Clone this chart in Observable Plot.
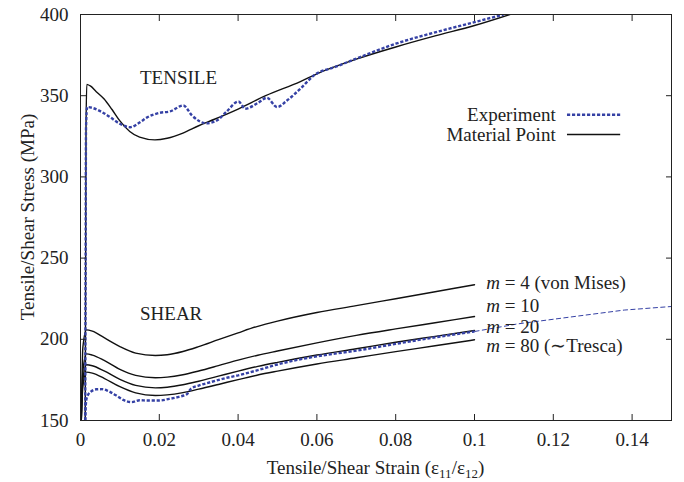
<!DOCTYPE html>
<html><head><meta charset="utf-8">
<script src="https://cdn.jsdelivr.net/npm/d3@7"></script>
<script src="https://cdn.jsdelivr.net/npm/@observablehq/plot@0.6"></script>
<style>
html,body{margin:0;padding:0;background:#fff;}
#chart{width:684px;height:482px;}
</style></head><body><div id="chart"></div>
<script>
// ---- tick values ----
const xTicks = [0, 0.02, 0.04, 0.06, 0.08, 0.1, 0.12, 0.14];
const yTicks = [150, 200, 250, 300, 350, 400];

// ---- tensile: material point model ----
const tensileModelStrain = [0.0012, 0.0014, 0.0016, 0.0025, 0.004, 0.006, 0.008, 0.01, 0.0125, 0.015, 0.0189, 0.022, 0.026, 0.03, 0.034, 0.04, 0.047, 0.0558, 0.06, 0.07, 0.08, 0.09, 0.1, 0.109];
const tensileModelStress = [150, 330, 357, 356, 352.5, 348, 341.5, 334.5, 328, 324.5, 322.8, 323.8, 327, 331.5, 335.5, 341.8, 350, 358.7, 363.5, 372.5, 380, 386.8, 393.2, 400];

// ---- tensile: experiment ----
const tensileExpStrain = [0.0012, 0.0013, 0.0014, 0.0017, 0.003, 0.005, 0.0075, 0.01, 0.0126, 0.015, 0.0168, 0.0202, 0.0227, 0.0261, 0.0283, 0.032, 0.0346, 0.037, 0.0401, 0.0418, 0.045, 0.0473, 0.0499, 0.0524, 0.0558, 0.0592, 0.065, 0.071, 0.08, 0.09, 0.1, 0.1074];
const tensileExpStress = [150, 250, 330, 343, 342.5, 340.5, 336.8, 332.7, 330.6, 333.5, 336.5, 339.5, 340.3, 344, 337.8, 333, 334.7, 340, 346.4, 342, 345.5, 348.7, 343, 347, 354.3, 362.4, 368, 373.8, 382, 389, 395.3, 400];

// ---- shear: material point model, exponent m ----
const shearStrain = [0.0002, 0.0006, 0.0015, 0.003, 0.006, 0.01, 0.014, 0.019, 0.022, 0.026, 0.03, 0.035, 0.04, 0.045, 0.05, 0.06, 0.07, 0.08, 0.09, 0.1];
const shearM4  = [150, 195, 205.8, 205, 201, 195.5, 191.5, 190, 190.5, 192.5, 195.5, 199.8, 204, 208, 211.2, 216.5, 220.7, 225, 229.3, 233.6];
const shearM10 = [150, 180, 191, 190.3, 187, 181.5, 177.8, 176.3, 176.7, 178.2, 180.5, 183.8, 187.2, 190.2, 192.8, 197.8, 202.4, 206.4, 210.2, 214];
const shearM20 = [150, 175, 184.3, 183.7, 180.5, 175.3, 171.6, 170.1, 170.5, 172, 174.2, 177.3, 180.4, 183.3, 185.8, 190.3, 194.2, 198.2, 201.8, 205.4];
const shearM80 = [150, 171, 179.8, 179.2, 176, 170.8, 167, 165.4, 165.8, 167.2, 169.3, 172.2, 175.2, 178, 180.4, 184.8, 188.6, 192.4, 196, 199.7];
const mLabels = ["m = 4 (von Mises)", "m = 10", "m = 20", "m = 80 (\u223CTresca)"];

// ---- shear: experiment ----
const shearExpStrain = [0.0012, 0.0013, 0.0016, 0.0025, 0.004, 0.0055, 0.007, 0.009, 0.011, 0.013, 0.015, 0.017, 0.02, 0.0225, 0.025, 0.027, 0.028, 0.03, 0.033, 0.037, 0.04, 0.045, 0.05, 0.055, 0.06, 0.065, 0.07, 0.08, 0.09, 0.1];
const shearExpStress = [150, 158, 164, 167.5, 169.2, 169.3, 168.2, 165.5, 162.5, 161.3, 162.5, 162.3, 162.3, 163.3, 164.6, 166.2, 169.5, 171.5, 173.6, 176.2, 177.8, 181, 184.5, 187.3, 189.5, 191.3, 193, 197.2, 201.2, 204.8];
// extrapolated part beyond 0.1 (thin dashed)
const shearExpExtStrain = [0.1, 0.111, 0.124, 0.138, 0.15];
const shearExpExtStress = [204.8, 209.5, 213.6, 218, 220.2];

// ---- annotation texts ----
const regionLabels = ["TENSILE", "SHEAR"];
const legendLabels = ["Experiment", "Material Point"];

// ---- build tables ----
const rows = (xs, ys) => xs.map((x, i) => ({strain: x, stress: ys[i]}));
const tensileModel = rows(tensileModelStrain, tensileModelStress);
const tensileExp = rows(tensileExpStrain, tensileExpStress);
const shearExp = rows(shearExpStrain, shearExpStress);
const shearExpExt = rows(shearExpExtStrain, shearExpExtStress);
const shearModel = [shearM4, shearM10, shearM20, shearM80].flatMap((ys, k) =>
  shearStrain.map((x, i) => ({strain: x, stress: ys[i], m: mLabels[k]})));

// annotation placement (data coordinates)
const regionPos = [{x: 0.0151, y: 357.3}, {x: 0.0151, y: 211.6}];
const legendPos = [{x: 0.1206, y: 334.3, lx1: 0.1236, lx2: 0.1371, ly: 338.3},
                   {x: 0.1206, y: 322.4, lx1: 0.1236, lx2: 0.1371, ly: 326.1}];
const mPos = [230.7, 216.8, 203.6, 191.9];
const mX = 0.103;

const BLUE = "#3541a5";
const INK = "#222";
const expStyle = {stroke: BLUE, strokeWidth: 2.4, strokeDasharray: "3.2,1.8", strokeLinecap: "butt", strokeLinejoin: "miter"};
const modelStyle = {stroke: "#111", strokeWidth: 1.4};

const regionData = regionLabels.map((t, i) => ({t, ...regionPos[i]}));
const legendData = legendLabels.map((t, i) => ({t, ...legendPos[i]}));
const mData = mLabels.map((t, i) => ({t, x: mX, y: mPos[i]}));

const plot = Plot.plot({
  width: 684, height: 482,
  marginTop: 14, marginBottom: 62, marginLeft: 80, marginRight: 13,
  x: {domain: [0, 0.15]},
  y: {domain: [150, 400]},
  style: {fontFamily: "'Liberation Serif', 'Times New Roman', serif", fontSize: "19px", color: INK, background: "#fff"},
  marks: [
    Plot.line(shearExpExt, {x: "strain", y: "stress", stroke: BLUE, strokeWidth: 1, strokeDasharray: "5,2.5", strokeLinecap: "butt", clip: true}),
    Plot.line(shearModel, {x: "strain", y: "stress", z: "m", curve: "monotone-x", ...modelStyle, clip: true}),
    Plot.line(tensileModel, {x: "strain", y: "stress", curve: "monotone-x", ...modelStyle, clip: true}),
    Plot.line(shearExp, {x: "strain", y: "stress", curve: "monotone-x", ...expStyle, clip: true}),
    Plot.line(tensileExp, {x: "strain", y: "stress", curve: "monotone-x", ...expStyle, clip: true}),
    // legend samples
    Plot.ruleY(legendData.slice(0, 1), {y: "ly", x1: "lx1", x2: "lx2", ...expStyle}),
    Plot.ruleY(legendData.slice(1), {y: "ly", x1: "lx1", x2: "lx2", ...modelStyle}),
    Plot.text(legendData, {x: "x", y: "y", text: "t", textAnchor: "end", lineAnchor: "bottom", fill: INK}),
    Plot.text(regionData, {x: "x", y: "y", text: "t", textAnchor: "start", lineAnchor: "bottom", fill: INK}),
    Plot.text(mData, {x: "x", y: "y", text: "t", textAnchor: "start", lineAnchor: "bottom", fill: INK, className: "mlabel"}),
    // frame and inward ticks
    Plot.frame({stroke: INK, strokeWidth: 1}),
    Plot.axisX({anchor: "bottom", ticks: xTicks, tickSize: 6, dy: -6, tickFormat: () => "", label: null, stroke: INK}),
    Plot.axisX({anchor: "top", ticks: xTicks, tickSize: 6, dy: 6, tickFormat: () => "", label: null, stroke: INK}),
    Plot.axisY({anchor: "left", ticks: yTicks, tickSize: 6, dx: 6, tickFormat: () => "", label: null, stroke: INK}),
    Plot.axisY({anchor: "right", ticks: yTicks, tickSize: 6, dx: -6, tickFormat: () => "", label: null, stroke: INK}),
    // tick labels
    Plot.axisX({anchor: "bottom", ticks: xTicks, tickSize: 0, tickPadding: 12, tickFormat: d => String(d), label: null, fill: INK}),
    Plot.axisY({anchor: "left", ticks: yTicks, tickSize: 0, tickPadding: 12, tickFormat: d => String(d), label: null, fill: INK})
  ]
});

document.getElementById("chart").appendChild(plot);
const svg = d3.select(plot);

// italic "m" in the exponent labels
svg.selectAll("g.mlabel text").each(function () {
  const s = this.textContent;
  const sel = d3.select(this);
  sel.text(null);
  sel.append("tspan").attr("font-style", "italic").text(s.slice(0, 1));
  sel.append("tspan").text(s.slice(1));
});

// axis titles
const xt = svg.append("text")
  .attr("x", (80 + 671) / 2).attr("y", 474)
  .attr("text-anchor", "middle").attr("fill", INK)
  .attr("font-family", "'Liberation Serif', serif").attr("font-size", 19);
xt.append("tspan").text("Tensile/Shear Strain (\u03B5");
xt.append("tspan").attr("font-size", 13).attr("dy", 4).text("11");
xt.append("tspan").attr("dy", -4).text("/\u03B5");
xt.append("tspan").attr("font-size", 13).attr("dy", 4).text("12");
xt.append("tspan").attr("dy", -4).text(")");

svg.append("text")
  .attr("transform", "translate(34,217) rotate(-90)")
  .attr("text-anchor", "middle").attr("fill", INK)
  .attr("font-family", "'Liberation Serif', serif").attr("font-size", 19)
  .text("Tensile/Shear Stress (MPa)");
</script>
</body></html>
